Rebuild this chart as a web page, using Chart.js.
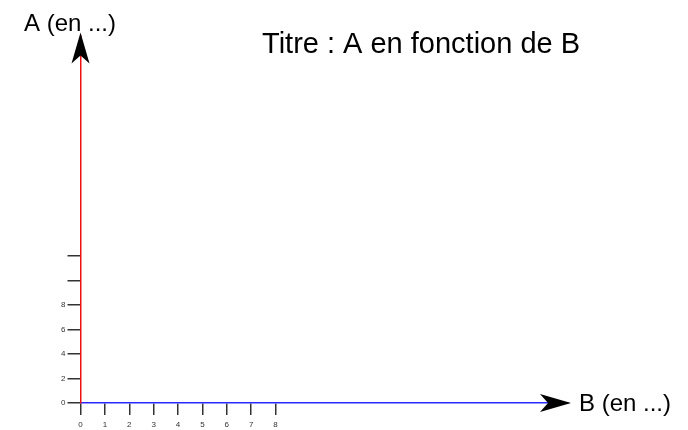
<!DOCTYPE html>
<html>
<head>
<meta charset="utf-8">
<script src="https://cdn.jsdelivr.net/npm/chart.js@4"></script>
<style>
  body { margin: 0; background: #fff; }
  #wrap { width: 688px; height: 430px; position: relative; }
</style>
</head>
<body>
<div id="wrap"><canvas id="chart"></canvas></div>
<script>
// axes vides : A en fonction de B
const xTicks = [0, 1, 2, 3, 4, 5, 6, 7, 8];
const xLabels = ['0', '1', '2', '3', '4', '5', '6', '7', '8'];
const yTicks = [0, 2, 4, 6, 8, 10, 12];
const yLabels = ['0', '2', '4', '6', '8', '', ''];
const xMax = 20;
const yMax = 30;
const titleText = 'Titre : A en fonction de B';
const xAxisTitle = 'B (en ...)';
const yAxisTitle = 'A (en ...)';

const FONT = '"Liberation Sans", Arial, sans-serif';

function arrowHead(ctx, x, y, angle) {
    ctx.save();
    ctx.translate(x, y);
    ctx.rotate(angle);
    ctx.beginPath();
    ctx.moveTo(0, 0);
    ctx.lineTo(-31, -9);
    ctx.lineTo(-23, 0);
    ctx.lineTo(-31, 9);
    ctx.closePath();
    ctx.fillStyle = '#000';
    ctx.fill();
    ctx.restore();
}

const decor = {
    id: 'decor',
    afterDraw(chart) {
        const ctx = chart.ctx;
        const xs = chart.scales.x;
        const ys = chart.scales.y;
        const x0 = xs.getPixelForValue(0);
        const y0 = ys.getPixelForValue(0);
        const xEnd = xs.getPixelForValue(xMax);
        const yEnd = ys.getPixelForValue(yMax);

        arrowHead(ctx, xEnd + 3, y0, 0);
        arrowHead(ctx, x0, yEnd - 3, -Math.PI / 2);

        ctx.save();
        ctx.fillStyle = '#000';
        ctx.textBaseline = 'alphabetic';
        ctx.font = '24px ' + FONT;
        ctx.textAlign = 'left';
        ctx.fillText(yAxisTitle, 24, 31);
        ctx.fillText(xAxisTitle, 579, y0 + 8);
        ctx.font = '29px ' + FONT;
        ctx.fillText(titleText, 262, 53);
        ctx.restore();
    }
};

new Chart(document.getElementById('chart'), {
    type: 'scatter',
    data: { datasets: [{ data: [] }] },
    options: {
        responsive: true,
        maintainAspectRatio: false,
        animation: false,
        layout: { padding: { top: 35.5, right: 120, bottom: 0, left: 0 } },
        plugins: {
            legend: { display: false },
            tooltip: { enabled: false }
        },
        scales: {
            x: {
                type: 'linear',
                min: 0,
                max: xMax,
                afterBuildTicks: s => { s.ticks = xTicks.map(v => ({ value: v })); },
                afterFit: s => { s.height = 27; },
                border: { color: '#2a2aff', width: 1.5 },
                grid: {
                    drawOnChartArea: false,
                    drawTicks: true,
                    tickLength: 12,
                    color: '#333',
                    lineWidth: 1.5
                },
                ticks: {
                    autoSkip: false,
                    maxRotation: 0,
                    padding: 5,
                    color: '#333',
                    font: { family: FONT, size: 8 },
                    callback: (v, i) => xLabels[i]
                }
            },
            y: {
                type: 'linear',
                min: 0,
                max: yMax,
                afterBuildTicks: s => { s.ticks = yTicks.map(v => ({ value: v })); },
                afterFit: s => { s.width = 80.5; },
                border: { color: '#ee1111', width: 1.5 },
                grid: {
                    drawOnChartArea: false,
                    drawTicks: true,
                    tickLength: 13,
                    color: '#333',
                    lineWidth: 1.5
                },
                ticks: {
                    autoSkip: false,
                    padding: 2,
                    color: '#333',
                    font: { family: FONT, size: 8 },
                    callback: (v, i) => yLabels[i]
                }
            }
        }
    },
    plugins: [decor]
});
</script>
</body>
</html>
